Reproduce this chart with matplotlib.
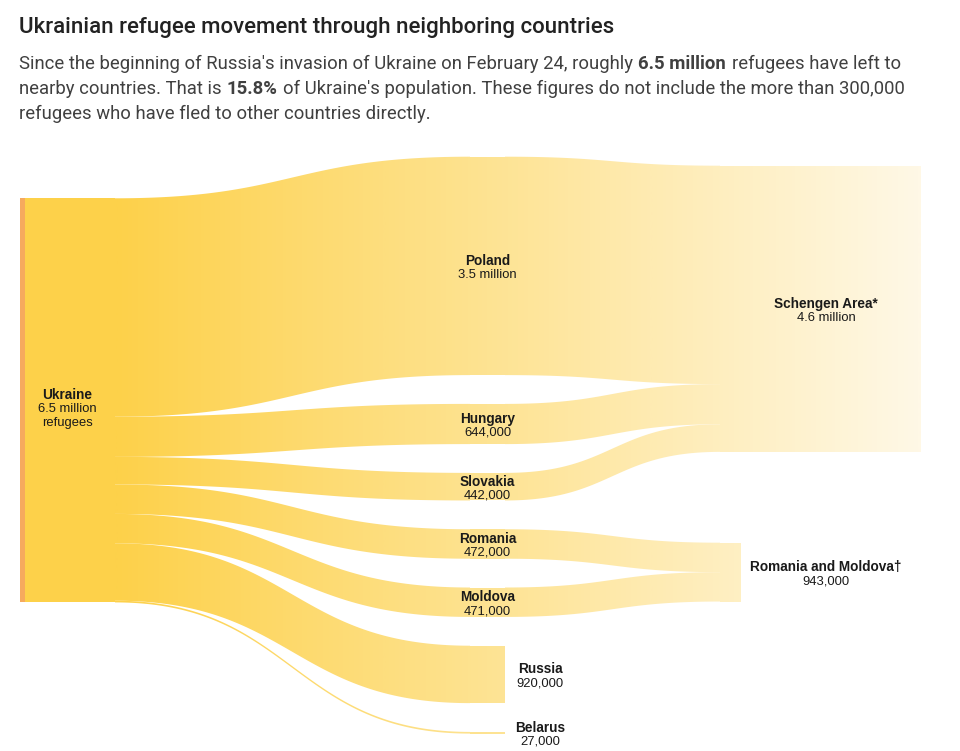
import numpy as np
import matplotlib.pyplot as plt
from matplotlib.path import Path
from matplotlib.patches import PathPatch, Rectangle
from matplotlib.colors import LinearSegmentedColormap

# ==========================================
# DATOS
# ==========================================
origen = "Ukraine"
origen_etiqueta = ["6.5 million", "refugees"]

paises = ["Poland", "Hungary", "Slovakia", "Romania", "Moldova", "Russia", "Belarus"]
refugiados_m = [3.5, 0.644, 0.442, 0.472, 0.471, 0.920, 0.027]   # millones
paises_etiqueta = ["3.5 million", "644,000", "442,000", "472,000", "471,000", "920,000", "27,000"]

destinos = ["Schengen Area*", "Romania and Moldova\u2020"]
destinos_etiqueta = ["4.6 million", "943,000"]
destino_de = [0, 0, 0, 1, 1, None, None]

titulo = "Ukrainian refugee movement through neighboring countries"
subtitulo = [
    [("Since the beginning of Russia's invasion of Ukraine on February 24, roughly", "normal"),
     ("6.5 million", "bold"), ("refugees have left to", "normal")],
    [("nearby countries. That is", "normal"), ("15.8%", "bold"),
     ("of Ukraine's population. These figures do not include the more than 300,000", "normal")],
    [("refugees who have fled to other countries directly.", "normal")],
]

# ==========================================
# LAYOUT (pixeles)
# ==========================================
PX_M = 62.4
X_ORIGEN = (20, 115)
X_MEDIO = (470, 505)
X_DESTINO = 720
DESTINO_DER = [921, 741]
ORIGEN_TOP = 198.3
MEDIO_TOP = 156.7
MEDIO_GAP = 28.8
DESTINO_TOP = [165.7, 542.7]
X_ETIQ_DESTINO = 826

AMARILLO = "#FDD14A"
CLARO = "#FFF8E6"
NARANJA = "#F6AA5E"
TEXTO = "#1a1a1a"

fig = plt.figure(figsize=(9.6, 7.51), dpi=100)
ax = fig.add_axes([0, 0, 1, 1])
ax.set_xlim(0, 960)
ax.set_ylim(751, 0)
ax.axis('off')

cmap = LinearSegmentedColormap.from_list("grad", [AMARILLO, CLARO])
grad = np.linspace(0, 1, 600)[None, :]


def rellenar(path):
    patch = PathPatch(path, facecolor='none', edgecolor='none')
    ax.add_patch(patch)
    im = ax.imshow(grad, cmap=cmap, extent=(X_ORIGEN[1], DESTINO_DER[0], 760, 100),
                   aspect='auto', interpolation='bilinear', zorder=1)
    im.set_clip_path(patch)


def rect_path(x0, x1, y0, y1):
    return Path([(x0, y0), (x1, y0), (x1, y1), (x0, y1), (x0, y0)], closed=True)


def enlace(x0, x1, ya, yb, w):
    t = np.linspace(0, 1, 200)
    xm = (x0 + x1) / 2
    bx = (1 - t)**3 * x0 + 3 * (1 - t)**2 * t * xm + 3 * (1 - t) * t**2 * xm + t**3 * x1
    s = 3 * t**2 - 2 * t**3
    top = ya + (yb - ya) * s
    bot = top + w
    verts = np.concatenate([np.column_stack([bx, top]), np.column_stack([bx[::-1], bot[::-1]])])
    verts = np.vstack([verts, verts[:1]])
    rellenar(Path(verts, closed=True))


# posiciones de nodos
alturas = [v * PX_M for v in refugiados_m]
origen_h = sum(alturas)
y_origen = ORIGEN_TOP + np.concatenate([[0], np.cumsum(alturas)[:-1]])
y_medio = []
y = MEDIO_TOP
for h in alturas:
    y_medio.append(y)
    y += h + MEDIO_GAP

# nodo origen
ax.add_patch(Rectangle((X_ORIGEN[0], ORIGEN_TOP), X_ORIGEN[1] - X_ORIGEN[0], origen_h,
                       facecolor=AMARILLO, edgecolor='none', zorder=2))
ax.add_patch(Rectangle((X_ORIGEN[0], ORIGEN_TOP), 5, origen_h,
                       facecolor=NARANJA, edgecolor='none', zorder=3))

# enlaces origen -> paises, nodos medios
for i, h in enumerate(alturas):
    enlace(X_ORIGEN[1], X_MEDIO[0], y_origen[i], y_medio[i], h)
    rellenar(rect_path(X_MEDIO[0], X_MEDIO[1], y_medio[i], y_medio[i] + h))

# enlaces paises -> destinos
acum = [0.0, 0.0]
for i, d in enumerate(destino_de):
    if d is None:
        continue
    enlace(X_MEDIO[1], X_DESTINO, y_medio[i], DESTINO_TOP[d] + acum[d], alturas[i])
    acum[d] += alturas[i]

for d in range(len(destinos)):
    rellenar(rect_path(X_DESTINO, DESTINO_DER[d], DESTINO_TOP[d], DESTINO_TOP[d] + acum[d]))

# ==========================================
# TEXTOS
# ==========================================
FN = "Liberation Sans"
cx_o = (X_ORIGEN[0] + X_ORIGEN[1]) / 2
cy_o = ORIGEN_TOP + origen_h / 2
ax.text(cx_o, cy_o - 5, origen, ha='center', va='center', fontsize=9.8,
        fontweight='bold', family=FN, color=TEXTO, zorder=5)
for k, linea in enumerate(origen_etiqueta):
    ax.text(cx_o, cy_o + 9 + 14 * k, linea, ha='center', va='center', fontsize=9.4,
            family=FN, color=TEXTO, zorder=5)

for i, nombre in enumerate(paises):
    cy = y_medio[i] + alturas[i] / 2
    if destino_de[i] is None:
        cx = X_MEDIO[1] + 35
    else:
        cx = (X_MEDIO[0] + X_MEDIO[1]) / 2
    ax.text(cx, cy - 5, nombre, ha='center', va='center', fontsize=9.8,
            fontweight='bold', family=FN, color=TEXTO, zorder=5)
    ax.text(cx, cy + 9, paises_etiqueta[i], ha='center', va='center', fontsize=9.4,
            family=FN, color=TEXTO, zorder=5)

for d, nombre in enumerate(destinos):
    cy = DESTINO_TOP[d] + acum[d] / 2
    ax.text(X_ETIQ_DESTINO, cy - 5, nombre, ha='center', va='center', fontsize=9.8,
            fontweight='bold', family=FN, color=TEXTO, zorder=5)
    ax.text(X_ETIQ_DESTINO, cy + 9, destinos_etiqueta[d], ha='center', va='center',
            fontsize=9.4, family=FN, color=TEXTO, zorder=5)

# titulo y subtitulo
ax.text(19, 27, titulo, ha='left', va='center', fontsize=16, fontweight='medium',
        family="Roboto", color="#222222")

renderer = fig.canvas.get_renderer()
inv = ax.transData.inverted()


def ancho_espacio(size):
    t1 = ax.text(0, 0, "x x", fontsize=size, family="Roboto")
    t2 = ax.text(0, 0, "xx", fontsize=size, family="Roboto")
    w = t1.get_window_extent(renderer).width - t2.get_window_extent(renderer).width
    t1.remove()
    t2.remove()
    return w


SUB_SIZE = 13.3
esp = ancho_espacio(SUB_SIZE)
for n, partes in enumerate(subtitulo):
    x = 19
    yline = 64 + 25 * n
    for texto, peso in partes:
        t = ax.text(x, yline, texto, ha='left', va='center', fontsize=SUB_SIZE,
                    fontweight=peso, family="Roboto", color="#404040")
        bb = t.get_window_extent(renderer)
        extra = 1.5 if peso == "bold" else 0
        x = inv.transform((bb.x1 + esp + extra, bb.y0))[0]

fig.savefig("out.png", dpi=100, facecolor='white')
